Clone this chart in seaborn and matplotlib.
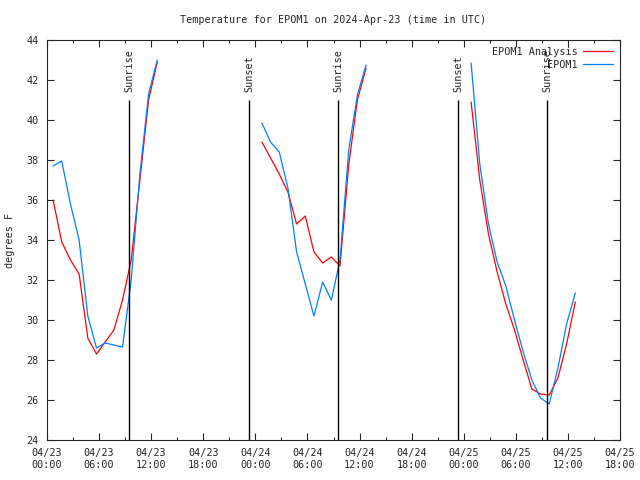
"""
plot.py - temperature trace for EPOM1 with sunrise/sunset markers
"""
import pandas as pd
import seaborn as sns
import matplotlib
matplotlib.use("Agg")
import matplotlib.pyplot as plt
import matplotlib.dates as mdates
from matplotlib.lines import Line2D

# hours after 2024-04-23 00:00 UTC where each hourly run starts
seg_start_hours = [0.7, 24.75, 48.85]

# analysis (red) and observed (blue), 13 hourly values per segment
analysis_vals = [
    [36.0, 33.9, 33.0, 32.3, 29.1, 28.3, 28.9, 29.5, 31.0, 33.0, 37.0, 41.0, 42.9],
    [38.9, 38.1, 37.3, 36.4, 34.8, 35.2, 33.4, 32.85, 33.15, 32.7, 37.75, 41.0, 42.6],
    [40.9, 37.0, 34.3, 32.4, 30.8, 29.5, 28.0, 26.55, 26.3, 26.25, 27.1, 28.8, 30.9],
]
obs_vals = [
    [37.7, 37.95, 35.8, 34.0, 30.2, 28.6, 28.85, 28.75, 28.65, 32.0, 37.3, 41.3, 43.0],
    [39.85, 38.9, 38.4, 36.6, 33.4, 31.8, 30.2, 31.9, 31.0, 33.0, 38.5, 41.25, 42.75],
    [42.85, 37.8, 34.8, 32.9, 31.7, 30.0, 28.4, 27.0, 26.1, 25.8, 27.6, 29.8, 31.35],
]

sun_labels = ["Sunrise", "Sunset", "Sunrise", "Sunset", "Sunrise"]
sun_hours = [9.5, 23.27, 33.53, 47.35, 57.6]

base = pd.Timestamp("2024-04-23 00:00")

rows = []
for seg, h0 in enumerate(seg_start_hours):
    for name, vals in (("EPOM1 Analysis", analysis_vals[seg]), ("EPOM1", obs_vals[seg])):
        for k, v in enumerate(vals):
            rows.append({"time": base + pd.Timedelta(hours=h0 + k), "temp": v,
                         "series": name, "segment": seg})
df = pd.DataFrame(rows)

sns.set_style("ticks")
plt.rcParams["font.family"] = ["DejaVu Sans Mono", "DejaVu Sans"]
plt.rcParams["font.size"] = 7

fig = plt.figure(figsize=(6.4, 4.8), dpi=100)
ax = fig.add_axes([47 / 640, 40 / 480, 573 / 640, 400 / 480])

sns.lineplot(data=df, x="time", y="temp", hue="series", units="segment",
             estimator=None, palette={"EPOM1 Analysis": "#ff0000", "EPOM1": "#0080ff"},
             linewidth=0.9, ax=ax, legend=False)

for lab, h in zip(sun_labels, sun_hours):
    t = base + pd.Timedelta(hours=h)
    ax.vlines(t, 24, 41, color="black", linewidth=1)
    ax.text(t, 41.4, lab, rotation=90, ha="center", va="bottom", fontsize=7.3)

# legend: text on the left, line sample on the right (gnuplot style)
handles = [Line2D([], [], color="#ff0000", lw=0.9), Line2D([], [], color="#0080ff", lw=0.9)]
ax.legend(handles, ["EPOM1 Analysis", "EPOM1"], loc="upper right", frameon=False,
          markerfirst=False, handlelength=3.0, handletextpad=0.5, labelspacing=0.3,
          borderaxespad=0.25, fontsize=7.3)

ax.set_xlim(base, base + pd.Timedelta(hours=66))
ax.set_ylim(24, 44)
ax.set_yticks(range(24, 45, 2))
ax.xaxis.set_major_locator(mdates.HourLocator(byhour=[0, 6, 12, 18]))
ax.xaxis.set_minor_locator(mdates.HourLocator(byhour=range(0, 24, 3)))
ax.xaxis.set_major_formatter(mdates.DateFormatter("%m/%d\n%H:%M"))
ax.tick_params(which="both", direction="in", top=True, right=True, width=0.8,
               labelsize=7.3)
ax.tick_params(which="major", length=5, pad=6)
ax.tick_params(which="minor", length=2.5)
for s in ax.spines.values():
    s.set_linewidth(0.8)

ax.set_xlabel("")
ax.set_ylabel("degrees F", fontsize=7.3, labelpad=8)
ax.set_title("Temperature for EPOM1 on 2024-Apr-23 (time in UTC)", fontsize=7.3, pad=12)

plt.savefig("out.png", dpi=100)
